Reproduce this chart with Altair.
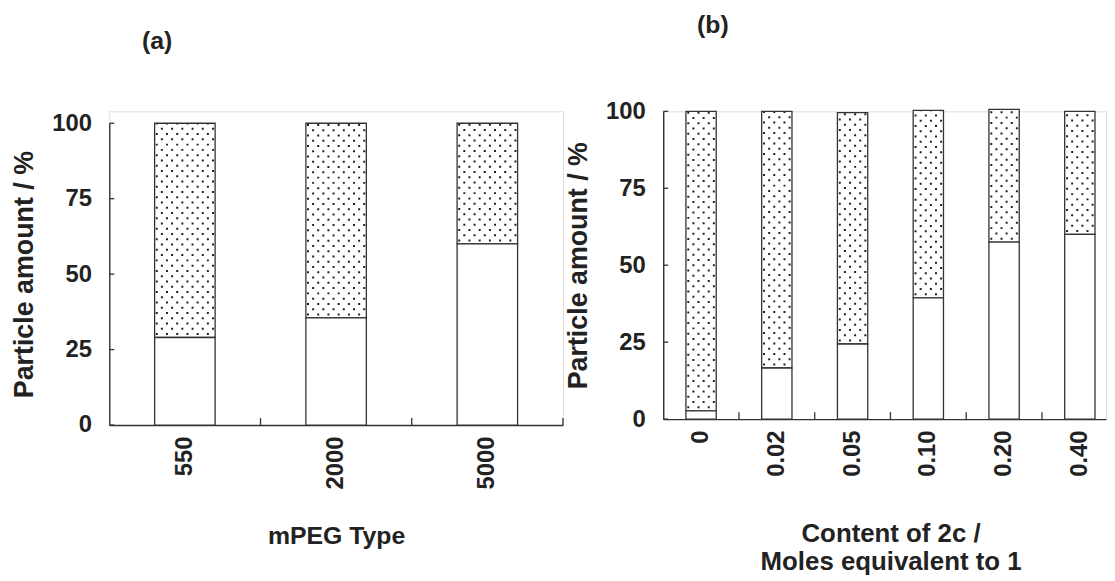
import altair as alt
import pandas as pd

# ---- data ----
mpeg_types = ["550", "2000", "5000"]
mpeg_white = [29.0, 35.5, 60.0]
mpeg_top = [100.0, 100.0, 100.0]

content_2c = ["0", "0.02", "0.05", "0.10", "0.20", "0.40"]
content_white = [2.7, 16.6, 24.4, 39.4, 57.5, 60.0]
content_top = [100.0, 100.0, 99.6, 100.3, 100.6, 100.0]

y_ticks = [0, 25, 50, 75, 100]

FONT = "Liberation Sans"
INK = "#222222"
LINE = "#333333"
DOT = "#222222"


def panel(cats, white, top, W, H, top_gap, pi, po, align, x_title, p_title,
          n_cols, x_title_font, x_title_pad, title_dx, title_offset,
          x_title_x=None, end_tick=True):
    df = pd.DataFrame({"cat": cats, "white": white, "top": top})
    n = len(cats)
    step = W / (n - pi + 2 * po)
    total_h = H + top_gap

    xscale = alt.Scale(type="band", domain=cats, paddingInner=pi,
                       paddingOuter=po, align=align)
    yscale = alt.Scale(domain=[0, 100], nice=False, zero=True,
                       range=[total_h, top_gap])

    xaxis_kw = dict(
        title=x_title, labelAngle=-90, labelFont=FONT, labelFontSize=24,
        labelFontWeight="bold", labelColor=INK, labelPadding=11, ticks=False,
        domainColor=LINE, domainWidth=1.4, grid=False,
        titleFont=FONT, titleFontSize=x_title_font, titleFontWeight="bold",
        titleColor=INK, titlePadding=x_title_pad, titleLineHeight=28,
    )
    if x_title_x is not None:
        xaxis_kw["titleX"] = x_title_x
    xaxis = alt.Axis(**xaxis_kw)
    yaxis = alt.Axis(
        title="Particle amount / %", values=y_ticks, ticks=False,
        labelFont=FONT, labelFontSize=24, labelFontWeight="bold",
        labelColor=INK, labelPadding=18, domainColor=LINE, domainWidth=1.4,
        grid=False, titleFont=FONT, titleFontSize=27, titleFontWeight="bold",
        titleColor=INK, titlePadding=13,
    )

    X = alt.X("cat:N", sort=cats, scale=xscale, axis=xaxis)
    Y = alt.Y("white:Q", scale=yscale, axis=yaxis)
    base = alt.Chart(df)

    layers = []
    # dotted segment background
    layers.append(base.mark_bar(fill="white", strokeWidth=0).encode(
        x=X, y=Y, y2="top"))
    # dot texture (dashed columns)
    col_step = 5.15
    for k in range(n_cols):
        off = (k - (n_cols - 1) / 2) * col_step
        layers.append(base.mark_rule(
            xOffset=off, stroke=DOT, strokeWidth=2.0,
            strokeDash=[2.0, 8.6], strokeDashOffset=-2.5 - (k % 2) * 5.3,
        ).encode(x=X, y=Y, y2="top"))
    # outlines
    layers.append(base.mark_bar(fill="white", fillOpacity=0, stroke=LINE,
                                strokeWidth=1.3).encode(x=X, y=Y, y2="top"))
    layers.append(base.mark_bar(fill="white", stroke=LINE,
                                strokeWidth=1.3).encode(
        x=X, y=Y, y2=alt.datum(0)))
    # inward y ticks
    layers.append(alt.Chart(pd.DataFrame({"v": y_ticks})).mark_rule(
        stroke=LINE, strokeWidth=1.3).encode(
        y=alt.Y("v:Q", scale=yscale, axis=yaxis),
        x=alt.value(0), x2=alt.value(5)))
    # inward x ticks at band boundaries
    layers.append(alt.Chart(df.iloc[1:]).mark_rule(
        xOffset=-step / 2, stroke=LINE, strokeWidth=1.3).encode(
        x=X, y=alt.value(total_h - 7), y2=alt.value(total_h)))
    if end_tick:
        layers.append(alt.Chart(df.iloc[-1:]).mark_rule(
            xOffset=step / 2, stroke=LINE, strokeWidth=1.3).encode(
            x=X, y=alt.value(total_h - 7), y2=alt.value(total_h)))

    return alt.layer(*layers).properties(
        width=W, height=total_h,
        title=alt.TitleParams(p_title, anchor="start", frame="group",
                              dx=title_dx, offset=title_offset, font=FONT,
                              fontSize=25, fontWeight="bold", color=INK),
    )


pa = panel(mpeg_types, mpeg_white, mpeg_top, W=457, H=304, top_gap=12,
           pi=0.6, po=0.3, align=0.5, x_title="mPEG Type", p_title="(a)",
           n_cols=12, x_title_font=25, x_title_pad=35, title_dx=33,
           title_offset=58)
pb = panel(content_2c, content_white, content_top, W=446, H=310, top_gap=0,
           pi=0.6, po=0.2225, align=0.673,
           x_title=["Content of 2c /", "Moles equivalent to 1"],
           p_title="(b)", n_cols=6, x_title_font=26, x_title_pad=45,
           title_dx=34, title_offset=62, x_title_x=229, end_tick=False)

chart = alt.hconcat(pa, pb, spacing=101, bounds="flush").properties(
    padding={"left": 2, "top": 2, "right": 0, "bottom": 0}
).configure_view(stroke="transparent").configure(background="white")

chart.save("out.html", embed_options={"renderer": "svg", "actions": False})
